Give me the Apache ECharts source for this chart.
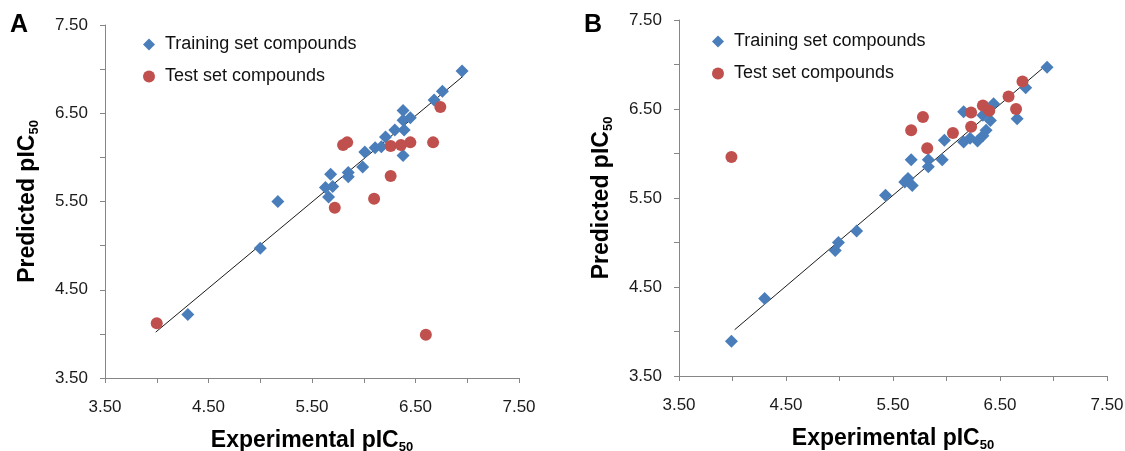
<!DOCTYPE html>
<html>
<head>
<meta charset="utf-8">
<script src="https://cdn.jsdelivr.net/npm/echarts@6/dist/echarts.min.js"></script>
<style>
html,body{margin:0;padding:0;background:#fff;}
#chart{width:1125px;height:451px;}
</style>
</head>
<body>
<div id="chart"></div>
<script>
// Panel A data
const trainA_x = [6.95,6.76,6.68,6.38,6.45,6.38,6.30,6.39,6.21,6.11,6.17,6.38,6.01,5.99,5.85,5.85,5.68,5.63,5.70,5.66,5.17,5.00,4.30];
const trainA_y = [6.98,6.75,6.65,6.53,6.45,6.42,6.31,6.31,6.23,6.11,6.12,6.02,6.06,5.89,5.83,5.78,5.81,5.66,5.67,5.55,5.50,4.97,4.22];
const testA_x = [6.74,5.80,5.84,6.26,6.36,6.45,6.67,6.26,6.10,5.72,4.00,6.60];
const testA_y = [6.57,6.14,6.17,6.13,6.14,6.17,6.17,5.79,5.53,5.43,4.12,3.99];
const lineA_x = [3.99,6.96];
const lineA_y = [4.02,6.92];
// Panel B data
const trainB_x = [6.94,6.74,6.44,6.16,6.66,6.34,6.41,6.37,6.34,6.29,6.22,6.16,5.98,5.67,5.83,5.96,5.83,5.64,5.61,5.68,5.43,5.16,4.99,4.96,4.30,3.99];
const trainB_y = [6.97,6.74,6.56,6.47,6.39,6.43,6.37,6.26,6.20,6.14,6.17,6.13,6.15,5.93,5.93,5.93,5.85,5.72,5.68,5.64,5.53,5.13,5.00,4.91,4.37,3.89];
const testB_x = [6.71,6.58,6.65,6.34,6.40,6.23,6.23,6.06,5.78,5.67,5.82,3.99];
const testB_y = [6.81,6.64,6.50,6.54,6.48,6.46,6.30,6.23,6.41,6.26,6.06,5.96];
const lineB_x = [4.02,6.92];
const lineB_y = [4.02,6.98];
// Axis settings
const axisMin = 3.5, axisMax = 7.5, axisStep = 0.5;
const seriesNames = ['Training set compounds','Test set compounds'];
const panelLabels = ['A','B'];
const xTitle = 'Experimental pIC';
const yTitle = 'Predicted pIC';
const subText = '50';

const FONT = '"Liberation Sans", Arial, Helvetica, sans-serif';
const BLUE = '#4a7ebb', RED = '#c0504d', AXIS = '#868686';

const pairs = (xs, ys) => xs.map((x, i) => [x, ys[i]]);
const labelFmt = v => (Math.abs(((v - axisMin) % 1)) < 1e-6 || Math.abs(((v - axisMin) % 1) - 1) < 1e-6) ? v.toFixed(2) : '';
const rich = {
  m: {fontSize: 23, fontWeight: 'bold', color: '#000', fontFamily: FONT, lineHeight: 26},
  s: {fontSize: 13, fontWeight: 'bold', color: '#000', fontFamily: FONT, lineHeight: 10, verticalAlign: 'bottom'}
};
function mkX(gi) {
  return {
    type: 'value', gridIndex: gi, min: axisMin, max: axisMax, interval: axisStep,
    name: '{m|' + xTitle + '}{s|' + subText + '}', nameLocation: 'middle', nameGap: 50,
    nameTextStyle: {rich: rich},
    axisLine: {show: true, lineStyle: {color: AXIS, width: 1}},
    axisTick: {show: true, length: 5, inside: false, lineStyle: {color: AXIS}},
    axisLabel: {formatter: labelFmt, fontSize: 17, color: '#1a1a1a', fontFamily: FONT, margin: 21, showMinLabel: true, showMaxLabel: true},
    splitLine: {show: false}
  };
}
function mkY(gi, gap) {
  return {
    type: 'value', gridIndex: gi, min: axisMin, max: axisMax, interval: axisStep,
    name: '{m|' + yTitle + '}{s|' + subText + '}', nameLocation: 'middle', nameGap: gap,
    nameTextStyle: {rich: rich},
    axisLine: {show: true, lineStyle: {color: AXIS, width: 1}},
    axisTick: {show: true, length: 5, inside: false, lineStyle: {color: AXIS}},
    axisLabel: {formatter: labelFmt, fontSize: 17, color: '#1a1a1a', fontFamily: FONT, margin: 17, showMinLabel: true, showMaxLabel: true},
    splitLine: {show: false}
  };
}
function mkSeries(gi, tx, ty, sx, sy, lx, ly) {
  return [
    {name: seriesNames[0], type: 'scatter', xAxisIndex: gi, yAxisIndex: gi, symbol: 'diamond', symbolSize: 13,
     itemStyle: {color: BLUE, opacity: 1}, data: pairs(tx, ty), z: 3},
    {name: seriesNames[1], type: 'scatter', xAxisIndex: gi, yAxisIndex: gi, symbol: 'circle', symbolSize: 12,
     itemStyle: {color: RED, opacity: 1}, data: pairs(sx, sy), z: 4},
    {name: 'fit' + gi, type: 'line', xAxisIndex: gi, yAxisIndex: gi, symbol: 'none', silent: true,
     lineStyle: {color: '#1a1a1a', width: 1}, data: pairs(lx, ly), z: 2}
  ];
}
function mkLegend(left, top) {
  return {
    orient: 'vertical', left: left, top: top, itemGap: 13, itemWidth: 12, itemHeight: 12,
    data: [{name: seriesNames[0], icon: 'diamond'}, {name: seriesNames[1], icon: 'circle'}],
    textStyle: {fontSize: 18, color: '#111', fontFamily: FONT, lineHeight: 19, padding: [0, 0, 0, 5]},
    selectedMode: false
  };
}

const chart = echarts.init(document.getElementById('chart'), null, {renderer: 'canvas'});
chart.setOption({
  animation: false,
  backgroundColor: '#fff',
  textStyle: {fontFamily: FONT},
  grid: [
    {left: 105, top: 25, width: 414, height: 353, containLabel: false, outerBoundsMode: 'none'},
    {left: 679, top: 20, width: 428, height: 356, containLabel: false, outerBoundsMode: 'none'}
  ],
  xAxis: [mkX(0), mkX(1)],
  yAxis: [mkY(0, 64), mkY(1, 64)],
  legend: [mkLegend(138, 30), mkLegend(707, 27)],
  graphic: [
    {type: 'text', left: 10, top: 13, style: {text: panelLabels[0], font: 'bold 25px ' + FONT, fill: '#000'}},
    {type: 'text', left: 584, top: 13, style: {text: panelLabels[1], font: 'bold 25px ' + FONT, fill: '#000'}}
  ],
  series: [].concat(
    mkSeries(0, trainA_x, trainA_y, testA_x, testA_y, lineA_x, lineA_y),
    mkSeries(1, trainB_x, trainB_y, testB_x, testB_y, lineB_x, lineB_y)
  )
});
</script>
</body>
</html>
